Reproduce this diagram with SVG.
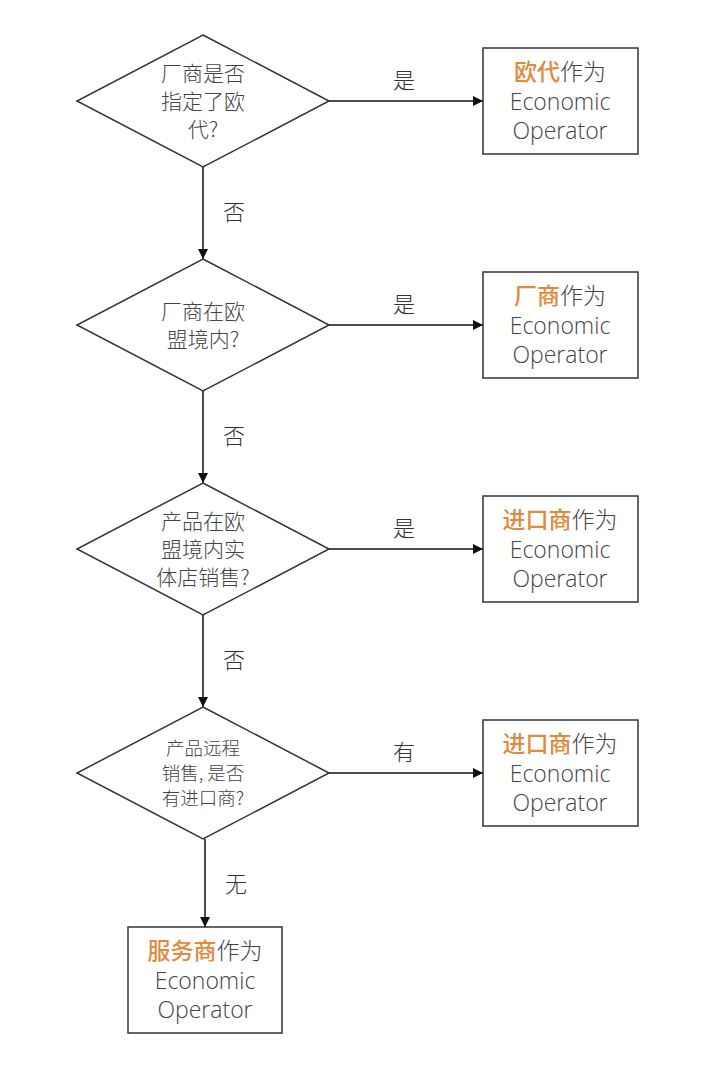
<svg xmlns="http://www.w3.org/2000/svg" width="720" height="1089" viewBox="0 0 720 1089">
<defs>
<marker id="ah" viewBox="0 0 10 10" refX="10" refY="5" markerWidth="10" markerHeight="10" markerUnits="userSpaceOnUse" orient="auto">
<path d="M0,0 L10,5 L0,10 z" fill="#111"/>
</marker>
<style>
.shape{fill:#fff;stroke:#333;stroke-width:1.5}
.q{font-family:"Noto Sans CJK SC","Noto Sans",sans-serif;font-size:21px;font-weight:300;fill:#444;text-anchor:middle}
.q2{font-size:18.5px}
.b{font-family:"Open Sans","Noto Sans CJK SC",sans-serif;font-size:23px;font-weight:300;fill:#444;text-anchor:middle}
.o{fill:#E08A3A;font-weight:500}
.lbl{font-family:"Noto Sans CJK SC",sans-serif;font-size:22px;font-weight:300;fill:#333;text-anchor:middle}
.c{stroke:#111;stroke-width:1.5;fill:none;marker-end:url(#ah)}
</style>
</defs>
<rect width="720" height="1089" fill="#fff"/>
<g id="connectors">
<path class="c" d="M329,101 H483"/>
<path class="c" d="M329,325 H483"/>
<path class="c" d="M329,549 H483"/>
<path class="c" d="M329,773 H483"/>
<path class="c" d="M203,167 V259"/>
<path class="c" d="M203,391 V483"/>
<path class="c" d="M203,615 V707"/>
<path class="c" d="M205,839 V927"/>
<text class="lbl" x="404" y="88">是</text>
<text class="lbl" x="404" y="312">是</text>
<text class="lbl" x="404" y="536">是</text>
<text class="lbl" x="404" y="760">有</text>
<text class="lbl" x="234" y="220">否</text>
<text class="lbl" x="234" y="444">否</text>
<text class="lbl" x="234" y="668">否</text>
<text class="lbl" x="236" y="892">无</text>
</g>
<g id="d1">
<polygon class="shape" points="203,35 329,101 203,167 77,101"/>
<text class="q" x="203" y="80.5">厂商是否<tspan x="203" dy="28.3">指定了欧</tspan><tspan x="203" dy="28.3">代?</tspan></text>
</g>
<g id="d2">
<polygon class="shape" points="203,259 329,325 203,391 77,325"/>
<text class="q" x="203" y="318.5">厂商在欧<tspan x="203" dy="28.3">盟境内?</tspan></text>
</g>
<g id="d3">
<polygon class="shape" points="203,483 329,549 203,615 77,549"/>
<text class="q" x="203" y="528.5">产品在欧<tspan x="203" dy="28.3">盟境内实</tspan><tspan x="203" dy="28.3">体店销售?</tspan></text>
</g>
<g id="d4">
<polygon class="shape" points="203,707 329,773 203,839 77,773"/>
<text class="q q2" x="203" y="755">产品远程<tspan x="203" dy="25">销售, 是否</tspan><tspan x="203" dy="25">有进口商?</tspan></text>
</g>
<g id="b1">
<rect class="shape" x="483" y="48" width="155" height="106"/>
<text class="b" x="560" y="80"><tspan class="o">欧代</tspan>作为</text>
<text class="b" x="560" y="109.5">Economic</text>
<text class="b" x="560" y="139">Operator</text>
</g>
<g id="b2">
<rect class="shape" x="483" y="272" width="155" height="106"/>
<text class="b" x="560" y="304"><tspan class="o">厂商</tspan>作为</text>
<text class="b" x="560" y="333.5">Economic</text>
<text class="b" x="560" y="363">Operator</text>
</g>
<g id="b3">
<rect class="shape" x="483" y="496" width="155" height="106"/>
<text class="b" x="560" y="528"><tspan class="o">进口商</tspan>作为</text>
<text class="b" x="560" y="557.5">Economic</text>
<text class="b" x="560" y="587">Operator</text>
</g>
<g id="b4">
<rect class="shape" x="483" y="720" width="155" height="106"/>
<text class="b" x="560" y="752"><tspan class="o">进口商</tspan>作为</text>
<text class="b" x="560" y="781.5">Economic</text>
<text class="b" x="560" y="811">Operator</text>
</g>
<g id="b5">
<rect class="shape" x="128" y="927" width="154" height="106"/>
<text class="b" x="205" y="959"><tspan class="o">服务商</tspan>作为</text>
<text class="b" x="205" y="988.5">Economic</text>
<text class="b" x="205" y="1018">Operator</text>
</g>
</svg>
